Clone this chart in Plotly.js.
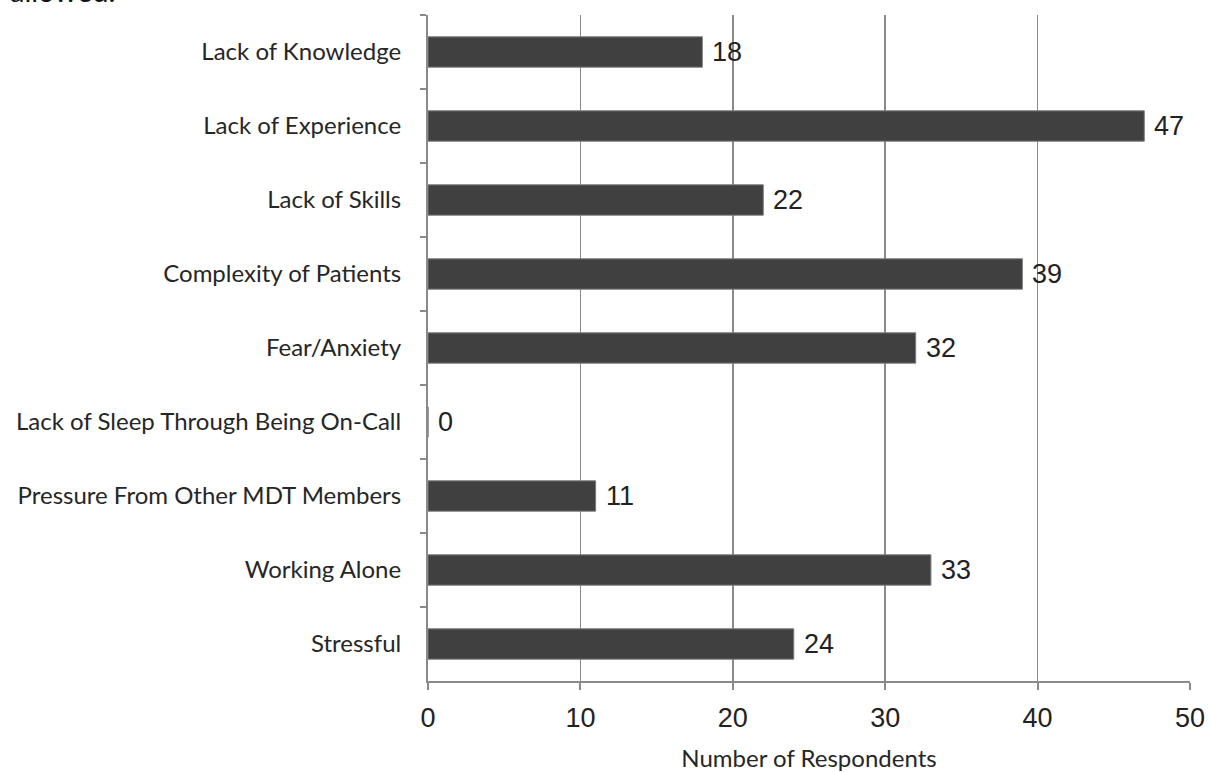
<!DOCTYPE html>
<html>
<head>
<meta charset="utf-8">
<script src="https://cdn.plot.ly/plotly-3.0.1.min.js"></script>
<style>html,body{margin:0;padding:0;background:#fff;}#chart{width:1210px;height:772px;}</style>
</head>
<body>
<div id="chart"></div>
<script>
const categories = ["Lack of Knowledge","Lack of Experience","Lack of Skills","Complexity of Patients","Fear/Anxiety","Lack of Sleep Through Being On-Call","Pressure From Other MDT Members","Working Alone","Stressful"];
const respondents = [18,47,22,39,32,0,11,33,24];
const xTicks = [0,10,20,30,40,50];

const labelFont = {family: "Lato, 'Open Sans', sans-serif", size: 24, color: "#262626"};
const numFont = {family: "'Liberation Sans', Arial, sans-serif", size: 27, color: "#222"};

const trace = {
  type: "bar",
  orientation: "h",
  x: respondents,
  y: categories,
  width: 0.41,
  marker: {color: "#404040", line: {color: "#7a7a7a", width: 1}},
  hoverinfo: "x+y"
};

const annotations = categories.map((c, i) => ({
  x: respondents[i], y: c, xref: "x", yref: "y",
  text: String(respondents[i]), showarrow: false,
  xanchor: "left", xshift: 8, yshift: 0, font: numFont
}));
annotations.push({
  x: 0, y: 1, xref: "paper", yref: "paper", xanchor: "left", yanchor: "bottom",
  text: "allowed.", showarrow: false, font: {family: "Lato, 'Open Sans', sans-serif", size: 29, color: "#111"},
  xshift: -420, yshift: 5
});

const layout = {
  width: 1210, height: 772,
  margin: {l: 428, r: 20, t: 15, b: 91},
  paper_bgcolor: "#fff", plot_bgcolor: "#fff",
  showlegend: false,
  xaxis: {
    range: [0, 50], tickvals: xTicks, ticktext: xTicks.map(String),
    showgrid: true, gridcolor: "#8a8a8a", gridwidth: 1.5,
    zeroline: false, showline: true, linecolor: "#8a8a8a", linewidth: 2,
    ticks: "outside", ticklen: 7, tickcolor: "#8a8a8a", tickwidth: 2,
    tickfont: numFont, ticklabelstandoff: 5,
    title: {text: "Number of Respondents", font: labelFont, standoff: 20},
    fixedrange: true
  },
  yaxis: {
    type: "category", autorange: "reversed",
    showgrid: false, zeroline: false, showline: true, linecolor: "#8a8a8a", linewidth: 2,
    ticks: "outside", tickson: "boundaries", ticklen: 6, tickcolor: "#8a8a8a", tickwidth: 1.5,
    tickfont: labelFont, ticklabelstandoff: 20,
    fixedrange: true
  },
  annotations: annotations
};

Plotly.newPlot("chart", [trace], layout, {displayModeBar: false, staticPlot: true});
</script>
</body>
</html>
